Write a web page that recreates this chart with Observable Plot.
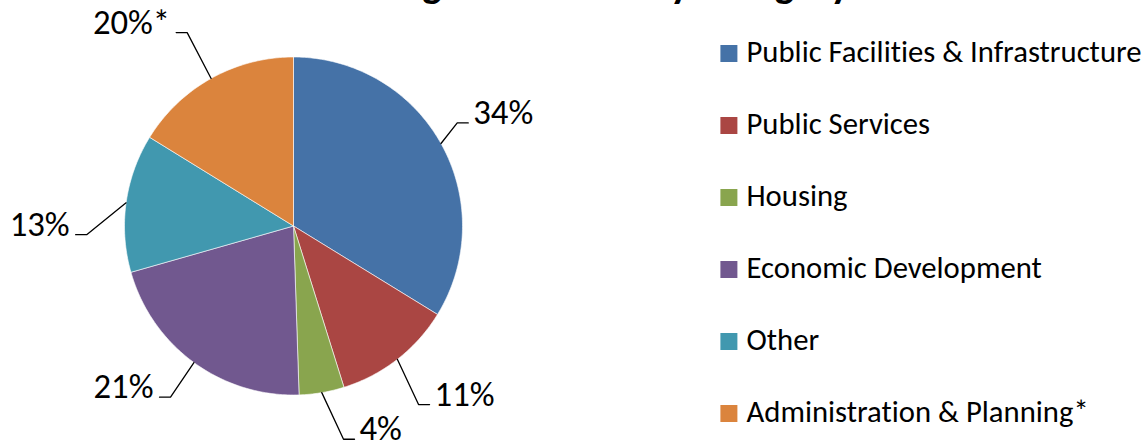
<!DOCTYPE html>
<html>
<head>
<meta charset="utf-8">
<script src="https://cdn.jsdelivr.net/npm/d3@7"></script>
<script src="https://cdn.jsdelivr.net/npm/@observablehq/plot@0.6"></script>
<style>
  html, body { margin: 0; padding: 0; background: #fff; }
  #wrap { position: relative; width: 1148px; height: 443px; overflow: hidden; background: #fff; font-variant-ligatures: none; }
  #wrap > * { position: absolute; top: 0; }
  svg { overflow: visible; }
  text { font-variant-ligatures: none; }
</style>
</head>
<body>
<div id="wrap"></div>
<script>
// ---------- data ----------
const title = "Funding Allocations by Category";
const categories = [
  "Public Facilities & Infrastructure",
  "Public Services",
  "Housing",
  "Economic Development",
  "Other",
  "Administration & Planning*"
];
const shares = [33.75, 11.4, 4.3, 21.1, 13.2, 16.2];      // slice sizes
const labels = ["34%", "11%", "4%", "21%", "13%", "20%*"]; // printed data labels
const colors = ["#4572A7", "#AA4643", "#89A54E", "#71588F", "#4198AF", "#DB843D"];

// ---------- layout ----------
const FONT = "Carlito, Lato, 'Open Sans', sans-serif";
const W = 1148, H = 443, PIE_W = 700;
const CX = 293, CY = 225.5, R = 169;           // pie centre / radius (px)
// leader elbow: radius (in pie radii), angle (deg clockwise from top), label side
const leaderLayout = [
  {r: 1.145, a: 57.8, side: 1},
  {r: 1.29, a: 145, side: 1},
  {r: 1.296, a: 166.8, side: 1},
  {r: 1.247, a: 215.7, side: -1},
  {r: 1.225, a: 267.6, side: -1},
  {r: 1.306, a: 331.2, side: -1}
];
const HSEG = 11 / R;   // horizontal leader length in pie units

const ctx = document.createElement("canvas").getContext("2d");
function measure(text, size, weight = "normal") {
  ctx.font = `${weight} ${size}px ${FONT}`;
  return ctx.measureText(text);
}
const labelSize = 100 * 60 / measure("34%", 100).width;
const legendSize = 100 * 395 / measure(categories[0], 100).width;

// ---------- slices ----------
const total = d3.sum(shares);
let cum = 0;
const slicePts = [];
const leaderPts = [];
const labelRows = [];
categories.forEach((c, i) => {
  const a0 = cum / total * 2 * Math.PI;
  cum += shares[i];
  const a1 = cum / total * 2 * Math.PI;
  const n = Math.max(2, Math.ceil((a1 - a0) * 60));
  slicePts.push({c, x: 0, y: 0});
  for (let k = 0; k <= n; k++) {
    const a = a0 + (a1 - a0) * k / n;
    slicePts.push({c, x: Math.sin(a), y: Math.cos(a)});
  }
  slicePts.push({c, x: 0, y: 0});
  // leader
  const am = (a0 + a1) / 2;
  const L = leaderLayout[i];
  const ae = L.a * Math.PI / 180;
  const ex = L.r * Math.sin(ae), ey = L.r * Math.cos(ae);
  const hx = ex + L.side * HSEG;
  leaderPts.push({c, x: Math.sin(am), y: Math.cos(am)});
  leaderPts.push({c, x: ex, y: ey});
  leaderPts.push({c, x: hx, y: ey});
  labelRows.push({c, x: hx, y: ey, text: labels[i], side: L.side});
});

const pie = Plot.plot({
  width: PIE_W,
  height: H,
  margin: 0,
  style: {fontFamily: FONT, background: "transparent", overflow: "visible"},
  x: {domain: [(0 - CX) / R, (PIE_W - CX) / R], axis: null},
  y: {domain: [(CY - H) / R, CY / R], axis: null},
  color: {domain: categories, range: colors},
  marks: [
    Plot.line(slicePts, {x: "x", y: "y", z: "c", fill: "c", stroke: "white", strokeWidth: 0.6, curve: "linear"}),
    Plot.line(leaderPts, {x: "x", y: "y", z: "c", stroke: "black", strokeWidth: 1.3, curve: "linear"}),
    Plot.text(labelRows.filter(d => d.side > 0), {x: "x", y: "y", text: "text", textAnchor: "start", lineAnchor: "bottom", dx: 5, dy: 1, fontSize: labelSize, fill: "black"}),
    Plot.text(labelRows.filter(d => d.side < 0), {x: "x", y: "y", text: "text", textAnchor: "end", lineAnchor: "bottom", dx: -6, dy: 1, fontSize: labelSize, fill: "black"})
  ]
});
pie.style.left = "0px";

const legend = Plot.plot({
  width: W - PIE_W,
  height: H,
  margin: 0,
  style: {fontFamily: FONT, background: "transparent", overflow: "visible"},
  x: {axis: null},
  y: {type: "point", domain: categories, range: [52.4, 52.4 + 72.2 * 5], padding: 0, axis: null},
  color: {domain: categories, range: colors},
  marks: [
    Plot.dot(categories, {y: d => d, fill: d => d, symbol: "square", r: 17 / Math.sqrt(Math.PI), frameAnchor: "left", dx: 28.4}),
    Plot.text(categories, {y: d => d, text: d => d, frameAnchor: "left", dx: 46, dy: 8.3, textAnchor: "start", lineAnchor: "bottom", fontSize: legendSize, fill: "black"})
  ]
});
legend.style.left = PIE_W + "px";

// title (cut off at the top edge, only descenders visible)
const tb = 100;
const w1 = measure("Fundin", tb, "bold").width + measure("g", tb, "bold").width / 2;
const w2 = measure(title.slice(0, -1), tb, "bold").width + measure("y", tb, "bold").width / 2;
const ts = tb * (840 - 432) / (w2 - w1);
const tLeft = 432 - w1 * ts / tb;
const desc = measure("g", ts, "bold").actualBoundingBoxDescent;
const ns = "http://www.w3.org/2000/svg";
const tsvg = document.createElementNS(ns, "svg");
tsvg.setAttribute("width", W);
tsvg.setAttribute("height", 20);
tsvg.style.left = "0px";
const t = document.createElementNS(ns, "text");
t.setAttribute("x", tLeft);
t.setAttribute("y", 3.8 - desc);
t.setAttribute("font-family", FONT);
t.setAttribute("font-weight", "bold");
t.setAttribute("font-size", ts);
t.textContent = title;
tsvg.appendChild(t);

const wrap = document.getElementById("wrap");
wrap.appendChild(pie);
wrap.appendChild(legend);
wrap.appendChild(tsvg);
</script>
</body>
</html>
